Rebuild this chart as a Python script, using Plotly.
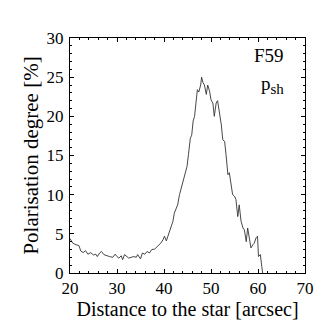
import plotly.graph_objects as go

distance = [
    20.0, 20.3, 20.6, 21.3, 21.9, 22.3, 22.8, 23.3, 23.8, 24.4, 25.0, 25.5, 25.8,
    26.3, 26.7, 27.2, 27.9, 28.4, 29.1, 29.6, 30.0, 30.4, 30.9, 31.2, 31.6, 32.1,
    32.5, 33.0, 33.6, 34.1, 34.4, 35.0, 35.4, 35.9, 36.4, 36.9, 37.4, 38.0, 38.7,
    39.3, 39.8, 40.1, 40.5, 41.0, 41.5, 41.9, 42.2, 42.6, 42.9, 43.3, 43.7, 44.0,
    44.4, 44.9, 45.2, 45.6, 45.9, 46.2, 46.5, 46.7, 47.1, 47.4, 47.8, 48.0, 48.3,
    48.6, 49.0, 49.3, 49.7, 50.0, 50.4, 50.7, 51.1, 51.4, 51.8, 52.2, 52.5, 52.9,
    53.2, 53.6, 53.9, 54.3, 54.6, 55.0, 55.3, 55.7, 56.0, 56.4, 56.8, 57.1, 57.5,
    57.8, 58.2, 58.5, 58.9, 59.2, 59.6, 59.9, 60.1, 60.5, 60.8, 61.0, 61.1,
]
p_sh = [
    4.4, 4.0, 3.8, 3.6, 3.5, 2.8, 2.6, 2.85, 2.4, 2.6, 2.3, 2.4, 2.1,
    2.55, 2.75, 2.35, 2.15, 2.1, 2.0, 2.4, 2.1, 1.9, 2.2, 1.7, 2.35, 2.1,
    1.9, 2.0, 2.1, 2.0, 2.35, 1.8, 2.55, 2.4, 2.75, 2.55, 3.0, 3.05, 3.4,
    3.8, 4.25, 4.7, 4.1, 4.9, 5.75, 6.6, 7.65, 8.3, 8.7, 10.0, 10.85, 11.7,
    12.55, 13.6, 15.1, 17.2, 17.6, 19.4, 20.0, 21.1, 23.4, 23.1, 24.0, 25.0, 24.3,
    24.0, 22.8, 24.0, 23.2, 22.1, 21.7, 20.0, 21.7, 22.0, 20.4, 18.9, 17.0, 16.8,
    15.1, 12.55, 12.8, 11.3, 10.0, 9.8, 9.4, 7.2, 8.7, 6.6, 5.75, 5.5, 4.0,
    5.75, 4.5, 3.2, 3.6, 3.8, 4.5, 4.7, 2.1, 2.35, 0.85, 0.2, -0.5,
]

x_ticks = [20, 30, 40, 50, 60, 70]
y_ticks = [0, 5, 10, 15, 20, 25, 30]

font = "Liberation Serif"

fig = go.Figure()
fig.add_trace(go.Scatter(
    x=distance, y=p_sh, mode="lines",
    line=dict(color="#333333", width=0.9),
    showlegend=False, hoverinfo="skip",
))

axis_common = dict(
    showgrid=False, zeroline=False,
    showline=True, linecolor="black", linewidth=1, mirror="allticks",
    ticks="inside", ticklen=4, tickcolor="black",
    tickfont=dict(family=font, size=17, color="black"),
)

fig.update_xaxes(
    range=[20, 70], tickvals=x_ticks,
    minor=dict(dtick=2, ticks="inside", ticklen=2, tickcolor="black"),
    title=dict(text="Distance to the star [arcsec]", font=dict(family=font, size=20, color="black"), standoff=0),
    **axis_common,
)
fig.update_yaxes(
    range=[0, 30], tickvals=y_ticks,
    minor=dict(dtick=1, ticks="inside", ticklen=2, tickcolor="black"),
    ticklabelstandoff=2,
    title=dict(text="Polarisation degree [%]", font=dict(family=font, size=21, color="black"), standoff=2),
    **axis_common,
)

fig.add_annotation(
    text="F59", xref="paper", yref="paper", x=0.92, y=0.98,
    xanchor="right", yanchor="top", showarrow=False,
    font=dict(family=font, size=19, color="black"),
)
fig.add_annotation(
    text="p<sub><span style='font-size:15px'>sh</span></sub>", xref="paper", yref="paper", x=0.92, y=0.86,
    xanchor="right", yanchor="top", showarrow=False,
    font=dict(family=font, size=19, color="black"),
)

fig.update_layout(
    width=327, height=327,
    margin=dict(l=62, r=30, t=30, b=62),
    paper_bgcolor="white", plot_bgcolor="white",
)

fig.write_html("out.html")
